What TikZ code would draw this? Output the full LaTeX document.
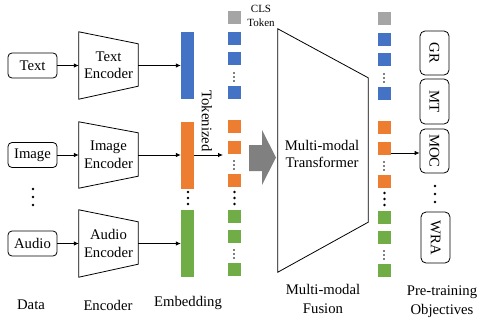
\documentclass[tikz,border=0pt]{standalone}
\usepackage{fontspec}
\setmainfont{Liberation Serif}
\usetikzlibrary{arrows.meta}
\definecolor{tokblue}{HTML}{4472C4}
\definecolor{tokorange}{HTML}{ED7D31}
\definecolor{tokgreen}{HTML}{70AD47}
\definecolor{tokgray}{HTML}{A5A5A5}
\definecolor{fusearrow}{HTML}{808080}
\begin{document}
\begin{tikzpicture}[x=1pt,y=-1pt,
  font=\fontsize{14.7}{17.5}\selectfont,
  databox/.style={draw, rounded corners=4pt, minimum width=49pt, minimum height=25pt, inner sep=0pt, line width=0.8pt},
  encbox/.style={minimum width=59pt, inner sep=0pt, align=center},
  encline/.style={draw, line width=0.8pt, line join=miter},
  bar/.style={minimum width=13pt, minimum height=67pt, inner sep=0pt},
  tok/.style={minimum size=13pt, inner sep=0pt},
  link/.style={-{Latex[length=5pt,width=4.5pt]}, line width=0.8pt},
  objbox/.style={draw, rounded corners=5pt, minimum width=29pt, inner sep=0pt, line width=0.8pt},
  caption/.style={align=center, font=\fontsize{14.7}{18.5}\selectfont},
  bigdot/.style={fill=black, radius=1.4pt},
  smalldot/.style={fill=black, radius=0.8pt}
]
\useasboundingbox (0,0) rectangle (478,324);

% ---------- input data ----------
\node[databox] (dtext) at (32.5,65.5) {Text};
\node[databox] (dimg)  at (32.5,155) {Image};
\node[databox] (daud)  at (32.5,243.5) {Audio};
\foreach \yy in {189,197,205} \fill[bigdot] (33,\yy) circle;

% ---------- encoders ----------
\node[encbox, minimum height=67pt] (etext) at (108.5,65.5) {Text\\Encoder};
\node[encbox, minimum height=66pt] (eimg)  at (108.5,155) {Image\\Encoder};
\node[encbox, minimum height=67pt] (eaud)  at (108.5,243.5) {Audio\\Encoder};
\draw[encline] (etext.north west) -- ([yshift=-12pt]etext.north east) -- ([yshift=13pt]etext.south east) -- (etext.south west) -- cycle;
\draw[encline] (eimg.north west) -- ([yshift=-11pt]eimg.north east) -- ([yshift=12pt]eimg.south east) -- (eimg.south west) -- cycle;
\draw[encline] (eaud.north west) -- ([yshift=-12pt]eaud.north east) -- ([yshift=13pt]eaud.south east) -- (eaud.south west) -- cycle;

% ---------- embeddings ----------
\node[bar, fill=tokblue]   (btext) at (187.5,65.5) {};
\node[bar, fill=tokorange] (bimg)  at (187.5,155.5) {};
\node[bar, fill=tokgreen]  (baud)  at (187.5,243.5) {};
\foreach \yy in {192,198,204} \fill[bigdot] (188,\yy) circle;

\draw[link] (dtext) -- (etext);
\draw[link] (dimg) -- (eimg);
\draw[link] (daud) -- (eaud);
\draw[link] (etext) -- (btext);
\draw[link] (eimg.east) -- (eimg.east -| bimg.west);
\draw[link] (eaud) -- (baud);

% ---------- token sequences ----------
\foreach \col/\xx/\dy in {a/234.5/0, b/384.5/1} {
  \node[tok, fill=tokgray]   (\col g)  at (\xx,17.5+\dy) {};
  \node[tok, fill=tokblue]   (\col b1) at (\xx,38.5+\dy) {};
  \node[tok, fill=tokblue]   (\col b2) at (\xx,58.5+\dy) {};
  \node[tok, fill=tokblue]   (\col b3) at (\xx,92.5+\dy) {};
  \node[tok, fill=tokorange] (\col o1) at (\xx,126.5+\dy) {};
  \node[tok, fill=tokorange] (\col o2) at (\xx,147+\dy) {};
  \node[tok, fill=tokorange] (\col o3) at (\xx,180+\dy) {};
  \node[tok, fill=tokgreen]  (\col n1) at (\xx,216.5+\dy) {};
  \node[tok, fill=tokgreen]  (\col n2) at (\xx,236.5+\dy) {};
  \node[tok, fill=tokgreen]  (\col n3) at (\xx,269.5+\dy) {};
  \foreach \yy in {73,77,81, 161,165,169, 250,254,258} \fill[smalldot] (\xx-0.5,\yy+\dy) circle;
  \foreach \yy in {192,198,204} \fill[bigdot] (\xx,\yy+\dy) circle;
}
\node[align=center, font=\fontsize{11}{14}\selectfont] (cls) at (261,16) {CLS\\Token};

\coordinate (tokin) at (223,155);
\draw[link] (bimg.east |- tokin) -- (tokin);
\node[rotate=-90] (tokd) at (207,121) {Tokenized};

% ---------- fusion ----------
\fill[fusearrow] (249,145) -- (262,145) -- (262,130) -- (276,157.5) -- (262,185) -- (262,171) -- (249,171) -- cycle;
\node[minimum width=90pt, minimum height=243pt, inner sep=0pt] (tf) at (323,150.5) {};
\draw[encline] (tf.north west) -- ([yshift=-49pt]tf.north east) -- ([yshift=50pt]tf.south east) -- (tf.south west) -- cycle;
\node[align=center] (tftext) at (322,154) {Multi-modal\\Transformer};

% ---------- pre-training objectives ----------
\node[objbox, minimum height=44pt] (ogr)  at (434.5,53) {};
\node[objbox, minimum height=45pt] (omt)  at (434.5,101.5) {};
\node[objbox, minimum height=44pt] (omoc) at (434.5,151) {};
\node[objbox, minimum height=51pt] (owra) at (435.5,237.5) {};
\node[rotate=-90] at (ogr)  {GR};
\node[rotate=-90] at (omt)  {MT};
\node[rotate=-90] at (omoc) {MOC};
\node[rotate=-90] at (owra) {WRA};
\foreach \yy in {186,194,202} \fill[bigdot] (435,\yy) circle;

\coordinate (outtap) at (391,153);
\draw[link] (outtap) -- (outtap -| omoc.west);

% ---------- column captions ----------
\node[caption] at (31,305) {Data};
\node[caption] at (108,305) {Encoder};
\node[caption] at (188,303) {Embedding};
\node[caption] at (323,299) {Multi-modal\\Fusion};
\node[caption] at (442,301.5) {Pre-training\\Objectives};
\end{tikzpicture}
\end{document}
